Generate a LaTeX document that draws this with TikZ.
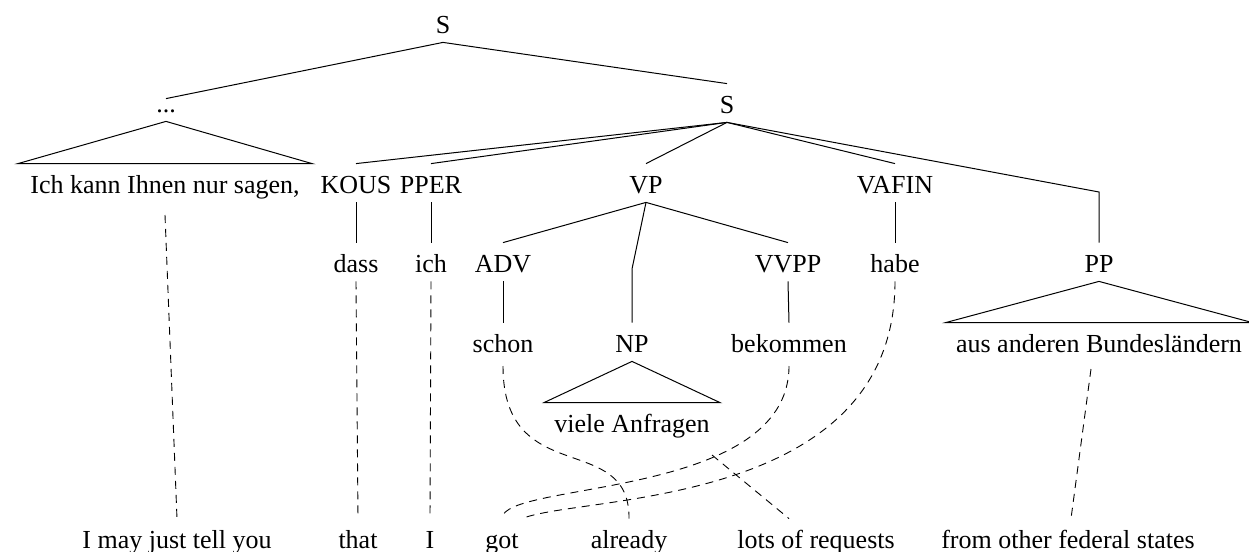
\documentclass[tikz,border=0pt]{standalone}
\usepackage{fontspec}
\setmainfont{Liberation Serif}
\begin{document}
\begin{tikzpicture}[x=0.5pt,y=-0.5pt,
  font=\fontsize{13}{15}\selectfont,
  lbl/.style={inner sep=0pt, anchor=base, text height=14.5pt, text depth=4.5pt},
  tree/.style={line width=0.5pt, line join=miter},
  alnline/.style={dash pattern=on 4pt off 3pt, line width=0.45pt}]
\useasboundingbox (0,0) rectangle (1249,552);
% --- labels ---
\node[lbl] (s0) at (443,33) {S};
\node[lbl, text height=6.5pt] (dots) at (166,112) {...};
\node[lbl] (s1) at (727,113) {S};
\node[lbl] (ichkann) at (165,193) {Ich kann Ihnen nur sagen,};
\node[lbl] (kous) at (356,193) {KOUS};
\node[lbl] (pper) at (431,193) {PPER};
\node[lbl] (vp) at (646,193) {VP};
\node[lbl] (vafin) at (895,193) {VAFIN};
\coordinate (ppbend) at (1099,192);
\node[lbl] (dass) at (356,272) {dass};
\node[lbl] (ich) at (431,272) {ich};
\node[lbl] (adv) at (503,272) {ADV};
\coordinate (npbend) at (632,269);
\node[lbl] (vvpp) at (788,272) {VVPP};
\node[lbl] (habe) at (895,272) {habe};
\node[lbl] (pp) at (1099,272) {PP};
\node[lbl] (schon) at (503,352) {schon};
\node[lbl] (np) at (632,352) {NP};
\node[lbl] (bekommen) at (789,352) {bekommen};
\node[lbl] (aus) at (1099,352) {aus anderen Bundesländern};
\node[lbl] (viele) at (632,432) {viele Anfragen};
\node[lbl] (e1) at (177,548) {I may just tell you};
\node[lbl] (e2) at (358,548) {that};
\node[lbl] (e3) at (430,548) {I};
\node[lbl] (e4) at (502,548) {got};
\node[lbl] (e5) at (629,548) {already};
\node[lbl] (e6) at (816,548) {lots of requests};
\node[lbl] (e7) at (1068,548) {from other federal states};
% --- tree edges ---
\draw[tree] (s0.south) -- (dots.north);
\draw[tree] (s0.south) -- (s1.north);
\draw[tree] (dots.south) -- ([xshift=-6pt]ichkann.north west) -- ([xshift=6pt]ichkann.north east) -- cycle;
\draw[tree] (s1.south) -- (kous.north);
\draw[tree] (s1.south) -- (pper.north);
\draw[tree] (s1.south) -- (vp.north);
\draw[tree] (s1.south) -- (vafin.north);
\draw[tree] (s1.south) -- (ppbend) -- (pp.north);
\draw[tree] (kous.south) -- (dass.north);
\draw[tree] (pper.south) -- (ich.north);
\draw[tree] (vafin.south) -- (habe.north);
\draw[tree] (vp.south) -- (adv.north);
\draw[tree] (vp.south) -- (npbend) -- (np.north);
\draw[tree] (vp.south) -- (vvpp.north);
\draw[tree] (adv.south) -- (schon.north);
\draw[tree] (vvpp.south) -- (bekommen.north);
\draw[tree] (np.south) -- ([xshift=-5pt]viele.north west) -- ([xshift=5pt]viele.north east) -- cycle;
\draw[tree] (pp.south) -- ([xshift=-5pt]aus.north west) -- ([xshift=5pt]aus.north east) -- cycle;
% --- alignment links ---
\draw[alnline] ([yshift=-11pt]ichkann.base) -- (e1.north);
\draw[alnline] (dass.south) -- (e2.north);
\draw[alnline] (ich.south) -- (e3.north);
\draw[alnline] ([yshift=-7pt]schon.base) .. controls +(0,124) and +(1,-89) .. (e5.north);
\draw[alnline] ([yshift=-7pt]bekommen.base) .. controls +(0,134) and +(0,-38) .. (e4.north);
\draw[alnline] (habe.south) .. controls +(0,228) and +(58,-24) .. ([xshift=10pt]e4.north);
\draw[alnline] ([xshift=1pt,yshift=-11.5pt]viele.base east) -- ([xshift=-13.5pt]e6.north);
\draw[alnline] ([xshift=-4pt,yshift=-8.5pt]aus.base) -- ([xshift=1.5pt]e7.north);
\end{tikzpicture}
\end{document}
